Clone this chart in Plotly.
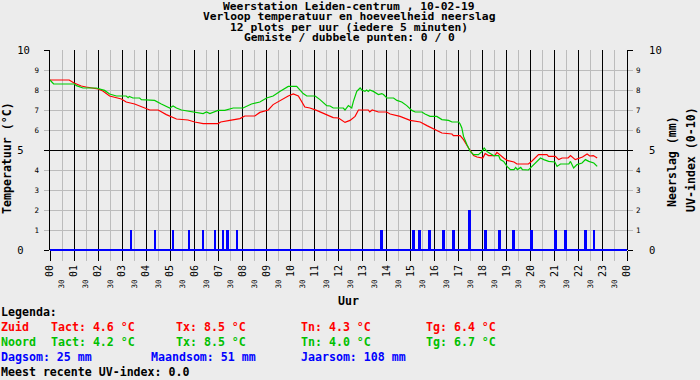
import plotly.graph_objects as go

# ---------------- data ----------------
hour_vals = list(range(25))
hour_text = ["00", "01", "02", "03", "04", "05", "06", "07", "08", "09", "10", "11",
             "12", "13", "14", "15", "16", "17", "18", "19", "20", "21", "22", "23", "00"]
half_vals = [h + 0.5 for h in range(24)]
half_text = ["30"] * 24

red_h = [0, 0.8, 1.0, 1.3, 1.5, 2.0, 2.2, 2.48, 2.97, 3.17, 3.52, 3.94, 4.15, 4.5, 4.84, 5.26,
         5.74, 6.02, 6.37, 6.99, 7.1, 7.48, 7.9, 8.1, 8.52, 8.73, 9.08, 9.28, 9.56, 9.91, 10.12,
         10.33, 10.6, 10.81, 11.09, 11.44, 11.78, 12.0, 12.27, 12.48, 12.69, 12.83, 13.24, 13.3,
         13.4, 13.66, 14.0, 14.15, 14.56, 14.98, 15.4, 15.68, 16.02, 16.3, 16.72, 16.78, 17.06,
         17.2, 17.41, 17.62, 17.76, 18.0, 18.1, 18.24, 18.5, 18.59, 18.87, 19.01, 19.3, 19.42,
         19.9, 20.05, 20.32, 20.67, 20.74, 21.02, 21.16, 21.3, 21.55, 21.65, 21.85, 22.0, 22.15,
         22.34, 22.45, 22.6, 22.76]
red_t = [8.5, 8.5, 8.35, 8.2, 8.15, 8.05, 7.95, 7.7, 7.55, 7.4, 7.3, 7.1, 7.0, 7.0, 6.77, 6.55,
         6.5, 6.4, 6.32, 6.32, 6.4, 6.48, 6.57, 6.7, 6.7, 6.88, 7.0, 7.27, 7.48, 7.7, 7.8,
         7.7, 7.15, 7.1, 6.98, 6.8, 6.62, 6.6, 6.38, 6.48, 6.68, 7.0, 7.0, 6.9,
         7.0, 6.9, 6.9, 6.8, 6.68, 6.48, 6.4, 6.22, 6.02, 5.85, 5.8, 5.72, 5.72,
         5.52, 5.1, 4.72, 4.65, 4.6, 4.82, 4.72, 4.72, 4.88, 4.6, 4.48, 4.4, 4.3,
         4.3, 4.45, 4.77, 4.77, 4.68, 4.68, 4.52, 4.6, 4.6, 4.72, 4.52, 4.6, 4.65,
         4.8, 4.7, 4.72, 4.6]

green_h = [0, 0.15, 1.02, 1.1, 1.37, 1.92, 2.27, 2.48, 2.76, 3.17, 3.25, 3.3, 3.45, 3.73, 3.8,
           4.35, 4.63, 4.98, 5.12, 5.26, 5.47, 5.95, 6.37, 6.51, 6.65, 6.99, 7.27, 7.62, 8.03,
           8.38, 8.73, 9.01, 9.28, 9.56, 9.91, 10.26, 10.53, 10.68, 11.03, 11.23, 11.51, 11.65,
           11.78, 12.2, 12.27, 12.41, 12.55, 12.62, 12.76, 12.9, 12.97, 13.1, 13.17, 13.24, 13.3,
           13.45, 13.66, 13.8, 13.87, 14.01, 14.29, 14.43, 14.63, 14.84, 15.05, 15.19, 15.47,
           15.6, 15.81, 16.09, 16.3, 16.58, 16.72, 17.0, 17.06, 17.13, 17.2, 17.34, 17.48, 17.62,
           17.82, 17.97, 18.06, 18.17, 18.3, 18.45, 18.66, 18.73, 18.87, 19.01, 19.15, 19.3,
           19.37, 19.44, 19.58, 19.65, 19.9, 20.12, 20.4, 20.54, 20.74, 21.0, 21.09, 21.23,
           21.58, 21.65, 21.78, 21.92, 22.13, 22.27, 22.41, 22.62, 22.76]
green_t = [8.5, 8.3, 8.3, 8.22, 8.1, 8.1, 7.98, 7.8, 7.7, 7.7, 7.62, 7.68, 7.6, 7.6, 7.52,
           7.48, 7.3, 7.1, 7.2, 7.1, 7.0, 6.9, 6.82, 6.9, 6.82, 6.98, 6.98, 7.1, 7.1,
           7.3, 7.4, 7.6, 7.7, 7.93, 8.18, 8.18, 7.82, 7.7, 7.7, 7.52, 7.22, 7.2,
           7.1, 7.1, 7.0, 7.22, 7.1, 7.43, 7.93, 8.1, 8.0, 7.93, 8.0, 7.93, 8.0,
           7.93, 7.77, 7.82, 7.77, 7.6, 7.6, 7.48, 7.4, 7.22, 6.98, 6.9, 6.9,
           6.8, 6.68, 6.68, 6.52, 6.48, 6.4, 6.4, 6.3, 6.1, 5.68, 5.27, 4.93, 4.77,
           4.77, 4.93, 5.1, 4.93, 4.85, 4.72, 4.72, 4.52, 4.43, 4.18, 4.02, 4.02,
           4.13, 4.02, 4.13, 4.02, 4.0, 4.27, 4.6, 4.52, 4.43, 4.4, 4.18, 4.3,
           4.3, 4.43, 4.1, 4.27, 4.35, 4.52, 4.43, 4.35, 4.18]

rain_h = [3.37, 4.37, 5.12, 5.78, 6.37, 6.87, 7.2, 7.37, 7.78, 13.78, 15.12, 15.37, 15.78,
          16.37, 16.78, 17.45, 18.12, 18.70, 19.28, 20.03, 21.03, 21.45, 22.28, 22.62]
rain_v = [1, 1, 1, 1, 1, 1, 1, 1, 1, 1, 1, 1, 1,
          1, 1, 2, 1, 1, 1, 1, 1, 1, 1, 1]

y_big_vals = [0, 5, 10]
y_big_left = ["0\u00a0", "5\u00a0", "10"]
y_big_right = ["0", "5", "10"]
y_small_vals = [1, 2, 3, 4, 6, 7, 8, 9]

title_lines = ["Weerstation Leiden-centrum , 10-02-19",
               "Verloop temperatuur en hoeveelheid neerslag",
               "12 plots per uur (iedere 5 minuten)",
               "Gemiste / dubbele punten: 0 / 0"]

# ---------------- styling ----------------
BG = "#ececec"
GRID = "#bcbcbc"
RED = "#ff0000"
GREEN = "#00cc00"
GREEN_TXT = "#00c000"
BLUE = "#0000ff"
MONO = "DejaVu Sans Mono"

L, T, W, H = 50, 50, 577, 200


def px(x):
    return (x - L) / W


def py(y):
    return (T + H - y) / H


fig = go.Figure()
fig.add_trace(go.Bar(x=rain_h, y=rain_v, width=0.11, marker=dict(color=BLUE, line=dict(width=0)),
                     xaxis="x", yaxis="y2", hoverinfo="skip"))
fig.add_trace(go.Scatter(x=red_h, y=red_t, mode="lines", line=dict(color=RED, width=1.2),
                         xaxis="x", yaxis="y"))
fig.add_trace(go.Scatter(x=green_h, y=green_t, mode="lines", line=dict(color=GREEN, width=1.2),
                         xaxis="x", yaxis="y"))
# empty traces so the label-only overlay axes get drawn
fig.add_trace(go.Scatter(x=[None], y=[None], xaxis="x2", yaxis="y", hoverinfo="skip"))
fig.add_trace(go.Scatter(x=[None], y=[None], xaxis="x", yaxis="y3", hoverinfo="skip"))
fig.add_trace(go.Scatter(x=[None], y=[None], xaxis="x", yaxis="y4", hoverinfo="skip"))

fig.update_layout(
    width=700, height=380,
    margin=dict(l=L, r=700 - L - W, t=T, b=380 - T - H),
    paper_bgcolor=BG, plot_bgcolor=BG,
    showlegend=False,
    bargap=0,
    xaxis=dict(range=[0, 24], tickmode="array", tickvals=hour_vals, ticktext=hour_text,
               tickangle=-90, ticks="outside", ticklen=10, tickcolor="black", tickwidth=1,
               showgrid=True, gridcolor="black", gridwidth=1, zeroline=False, showline=False,
               tickfont=dict(family=MONO, size=10, color="black"), fixedrange=True,
               minor=dict(dtick=0.5, tick0=0, ticks="outside", ticklen=10, tickcolor=GRID,
                          showgrid=True, gridcolor=GRID, gridwidth=1)),
    xaxis2=dict(range=[0, 24], overlaying="x", side="bottom", anchor="y", tickmode="array",
                tickvals=half_vals, ticktext=half_text, tickangle=-90, ticks="",
                showgrid=False, zeroline=False, showline=False, ticklabelstandoff=27,
                tickfont=dict(family=MONO, size=7.5, color="black"), fixedrange=True),
    yaxis=dict(range=[0, 10], tickmode="array", tickvals=y_big_vals, ticktext=y_big_left,
               ticks="outside", ticklen=5, tickcolor="black", showgrid=True, gridcolor="black",
               gridwidth=1, zeroline=True, zerolinecolor=BLUE, zerolinewidth=2,
               showline=True, linecolor="black", linewidth=1, ticklabelstandoff=12,
               tickfont=dict(family=MONO, size=10.5, color="black"), fixedrange=True,
               minor=dict(dtick=1, tick0=0, ticks="outside", ticklen=5, tickcolor=GRID,
                          showgrid=True, gridcolor=GRID, gridwidth=1)),
    yaxis3=dict(range=[0, 10], overlaying="y", side="left", anchor="x", tickmode="array",
                tickvals=y_small_vals, ticktext=[str(v) for v in y_small_vals], ticks="",
                showgrid=False, zeroline=False, showline=False, ticklabelstandoff=10,
                tickfont=dict(family=MONO, size=7.5, color="black"), fixedrange=True),
    yaxis2=dict(range=[0, 10], overlaying="y", side="right", anchor="x", tickmode="array",
                tickvals=y_big_vals, ticktext=y_big_right, ticks="outside", ticklen=5,
                tickcolor="black", showgrid=False, zeroline=False, showline=True,
                linecolor="black", linewidth=1, ticklabelstandoff=14,
                tickfont=dict(family=MONO, size=10.5, color="black"), fixedrange=True,
                minor=dict(dtick=1, tick0=0, ticks="outside", ticklen=5, tickcolor=GRID,
                           showgrid=False)),
    yaxis4=dict(range=[0, 10], overlaying="y", side="right", anchor="x", tickmode="array",
                tickvals=y_small_vals, ticktext=[str(v) for v in y_small_vals], ticks="",
                showgrid=False, zeroline=False, showline=False, ticklabelstandoff=8,
                tickfont=dict(family=MONO, size=7.5, color="black"), fixedrange=True),
)

ann = []
bold = dict(family=MONO, size=11.6, weight="bold")


def text(x, y, s, color="black", xanchor="left", angle=0, yanchor="middle", size=11.6):
    ann.append(dict(x=px(x), y=py(y), xref="paper", yref="paper", text=s, showarrow=False,
                    xanchor=xanchor, yanchor=yanchor, textangle=angle, borderpad=0,
                    font=dict(bold, color=color, size=size)))


for i, line in enumerate(title_lines):
    text(349, 7 + 10 * i, line, xanchor="center", size=11.3)

text(7, 158, "Temperatuur (°C)", xanchor="center", angle=-90)
text(672, 162, "Neerslag (mm)", xanchor="center", angle=-90)
text(691, 160, "UV-index (0-10)", xanchor="center", angle=-90)
text(337, 301, "Uur")

text(0, 312, "Legenda:")
text(0, 327, "Zuid", RED)
text(50, 327, "Tact: 4.6 °C", RED)
text(175, 327, "Tx: 8.5 °C", RED)
text(300, 327, "Tn: 4.3 °C", RED)
text(425, 327, "Tg: 6.4 °C", RED)
text(0, 342, "Noord", GREEN_TXT)
text(50, 342, "Tact: 4.2 °C", GREEN_TXT)
text(175, 342, "Tx: 8.5 °C", GREEN_TXT)
text(300, 342, "Tn: 4.0 °C", GREEN_TXT)
text(425, 342, "Tg: 6.7 °C", GREEN_TXT)
text(0, 357, "Dagsom: 25 mm", BLUE)
text(150, 357, "Maandsom: 51 mm", BLUE)
text(300, 357, "Jaarsom: 108 mm", BLUE)
text(0, 372, "Meest recente UV-index: 0.0")

fig.update_layout(annotations=ann)
fig.write_html("out.html",
               config={"displayModeBar": False, "staticPlot": True},
               post_script="document.body.style.margin='0';document.body.style.padding='0';"
                           "document.body.style.overflow='hidden';")
